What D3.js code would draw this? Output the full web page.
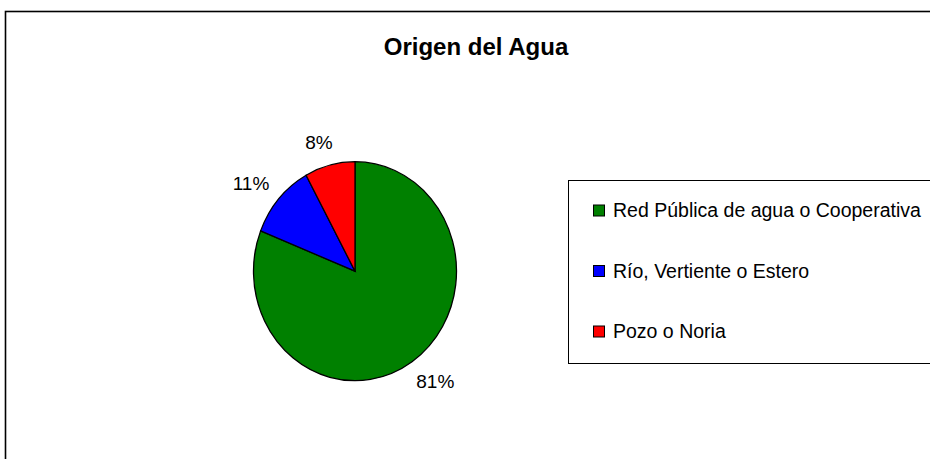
<!DOCTYPE html>
<meta charset="utf-8">
<style>
body { margin: 0; background: #fff; }
svg text { font-family: "Liberation Sans", Arial, sans-serif; fill: #000; }
.slice { stroke: #000; stroke-width: 1.3px; }
</style>
<body>
<div id="chart"></div>
<script src="https://d3js.org/d3.v7.min.js"></script>
<script>

// data
var categories = ["Red Pública de agua o Cooperativa", "Río, Vertiente o Estero", "Pozo o Noria"];
var values     = [81, 11, 8];
var labels     = ["81%", "11%", "8%"];
var colors     = ["#008000", "#0000ff", "#ff0000"];
var title      = "Origen del Agua";

var width = 930, height = 459;

var svg = d3.select("#chart").append("svg")
    .attr("width", width)
    .attr("height", height);

// outer chart frame (runs off the right / bottom edge)
svg.append("rect")
    .attr("x", 5.5).attr("y", 11.5)
    .attr("width", width + 20).attr("height", height + 20)
    .attr("fill", "none").attr("stroke", "#000").attr("stroke-width", 1.6);

svg.append("text")
    .attr("x", 476).attr("y", 55)
    .attr("text-anchor", "middle")
    .style("font-size", "24px").style("font-weight", "bold")
    .text(title);

// pie - slightly taller than wide, like the original
var cx = 355, cy = 271.2, rx = 101.5, ry = 109.5;

var pie = d3.pie().sort(null).value(d => d)(values);
var arc = d3.arc().innerRadius(0).outerRadius(rx);

svg.append("g")
    .attr("transform", "translate(" + cx + "," + cy + ") scale(1," + (ry / rx) + ")")
  .selectAll(".slice")
    .data(pie)
    .enter().append("path")
    .attr("class", "slice")
    .attr("vector-effect", "non-scaling-stroke")
    .attr("fill", (d, i) => colors[i])
    .attr("d", arc);

// percent labels just outside the rim
var gap = 16;
svg.selectAll(".pct")
    .data(pie)
    .enter().append("text")
    .attr("class", "pct")
    .style("font-size", "19px")
    .attr("text-anchor", "middle")
    .text((d, i) => labels[i])
    .each(function(d) {
        var a = (d.startAngle + d.endAngle) / 2,
            s = Math.sin(a), c = Math.cos(a),
            w = this.getComputedTextLength(), h = 13.6;
        var x = cx + (rx + gap) * s + Math.sign(s) * Math.sqrt(Math.abs(s)) * w / 2,
            y = cy - (ry + gap + 1) * c - c * h / 2;
        d3.select(this).attr("x", x).attr("y", y + h / 2);
    });

// legend
var legend = svg.append("g");
legend.append("rect")
    .attr("x", 568.5).attr("y", 180.5)
    .attr("width", 400).attr("height", 183)
    .attr("fill", "none").attr("stroke", "#000").attr("stroke-width", 1);

var ly = d3.scalePoint().domain(categories).range([210.5, 331.5]);

var items = legend.selectAll(".item")
    .data(categories)
    .enter().append("g")
    .attr("class", "item")
    .attr("transform", d => "translate(593.5," + ly(d) + ")");

items.append("rect")
    .attr("x", 0).attr("y", -5.5)
    .attr("width", 11).attr("height", 11)
    .attr("fill", (d, i) => colors[i])
    .attr("stroke", "#000").attr("stroke-width", 1);

items.append("text")
    .attr("x", 19.5).attr("y", 6.9)
    .style("font-size", "19.5px")
    .text(d => d);

</script>
